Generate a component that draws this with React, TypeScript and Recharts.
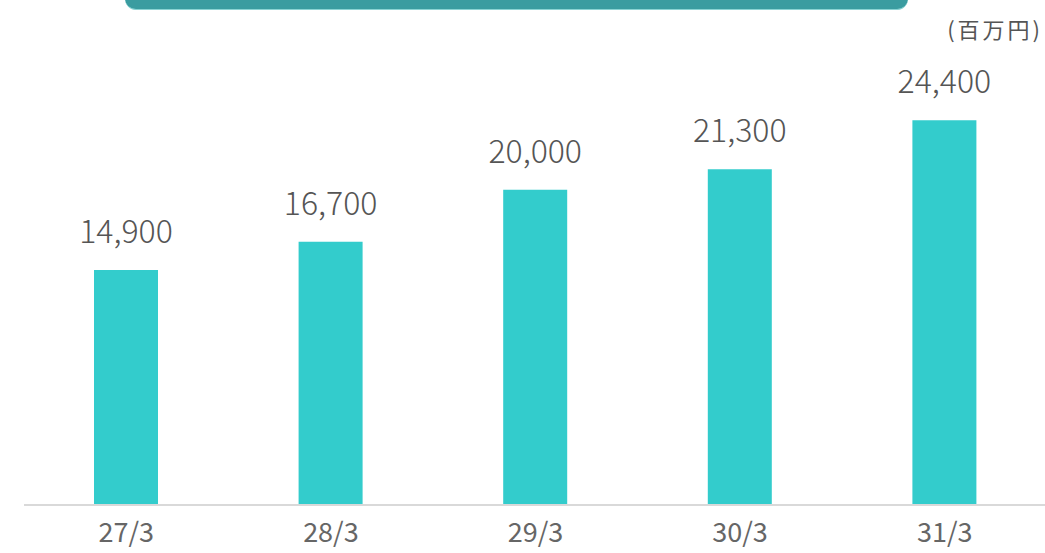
import { BarChart, Bar, XAxis, YAxis, LabelList } from "recharts";

// ── Data ──────────────────────────────────────────────
const PERIODS = ["27/3", "28/3", "29/3", "30/3", "31/3"];
const AMOUNTS = [14900, 16700, 20000, 21300, 24400];
const UNIT_LABEL = "(百万円)";

const BAR_COLOR = "#33CCCC";
const BANNER_COLOR = "#3A9CA0";
const FONT = '"Noto Sans CJK JP", "Noto Sans", sans-serif';

const data = PERIODS.map((period, i) => ({ period, amount: AMOUNTS[i] }));

export default function App() {
  return (
    <div
      style={{
        position: "absolute",
        left: 0,
        top: 0,
        width: 1045,
        height: 553,
        overflow: "hidden",
        background: "#fff",
        fontFamily: FONT,
      }}
    >
      {/* cut-off title banner */}
      <div
        style={{
          position: "absolute",
          left: 125,
          top: -12,
          width: 783,
          height: 21,
          background: BANNER_COLOR,
          borderRadius: 11,
          borderBottom: "1px solid #8ad3d3",
        }}
      />

      {/* unit */}
      <div
        style={{
          position: "absolute",
          right: 2,
          top: 17,
          fontSize: 22,
          lineHeight: "22px",
          letterSpacing: 3,
          color: "#555",
          whiteSpace: "nowrap",
        }}
      >
        {UNIT_LABEL}
      </div>

      <BarChart
        width={1047}
        height={553}
        data={data}
        margin={{ top: 32, right: 0, left: 24, bottom: 0 }}
      >
        <XAxis
          dataKey="period"
          height={48}
          axisLine={{ stroke: "#d9d9d9", strokeWidth: 2 }}
          tickLine={false}
          tickMargin={12}
          tick={{ fontSize: 27, fill: "#666", fontFamily: FONT }}
        />
        <YAxis hide domain={[0, 30000]} />
        <Bar dataKey="amount" fill={BAR_COLOR} barSize={64} isAnimationActive={false}>
          <LabelList
            dataKey="amount"
            position="top"
            offset={27}
            formatter={(v: any) => Number(v).toLocaleString("en-US")}
            style={{ fontSize: 32, fill: "#555", fontFamily: FONT, fontWeight: 300 }}
          />
        </Bar>
      </BarChart>
    </div>
  );
}
